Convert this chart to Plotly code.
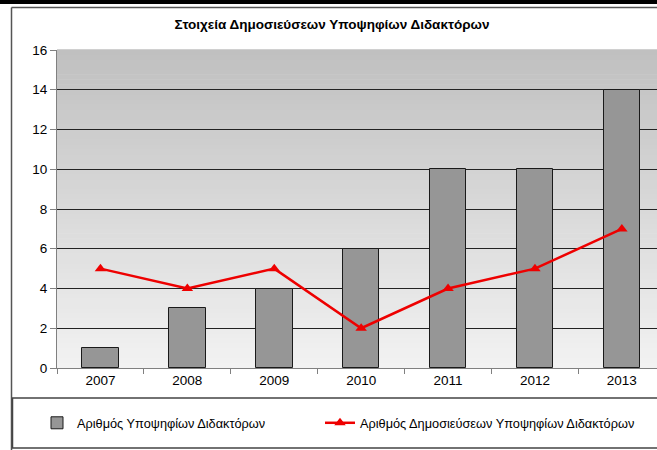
import plotly.graph_objects as go

# Δεδομένα
years = ['2007', '2008', '2009', '2010', '2011', '2012', '2013']
candidates = [1, 3, 4, 6, 10, 10, 14]
publications = [5, 4, 5, 2, 4, 5, 7]

W, H = 657, 450
L, T, B = 57, 50, 82
PW, PH = W - L, H - T - B


def px_x(x):
    return (x - L) / PW


def px_y(y):
    return (H - B - y) / PH


fig = go.Figure()

fig.add_trace(go.Bar(
    x=years,
    y=candidates,
    name='Αριθμός Υποψηφίων Διδακτόρων',
    width=0.42,
    marker=dict(color='#969696', line=dict(color='#1a1a1a', width=1)),
    legend='legend',
))

fig.add_trace(go.Scatter(
    x=years,
    y=publications,
    mode='lines+markers',
    name='Αριθμός Δημοσιεύσεων Υποψηφίων Διδακτόρων',
    line=dict(color='#ee0000', width=2.5),
    marker=dict(symbol='triangle-up', size=10, color='#ee0000'),
    legend='legend2',
))

# gradient background of the plot area
shapes = []
n = 64
for i in range(n):
    t = i / (n - 1)
    c = int(round(242 - (242 - 192) * t))
    shapes.append(dict(
        type='rect', xref='paper', yref='paper', layer='below',
        x0=0, x1=1, y0=i / n, y1=(i + 1) / n + 0.002,
        fillcolor=f'rgb({c},{c},{c})', line=dict(width=0),
    ))

# frame bits
shapes.append(dict(type='rect', xref='paper', yref='paper',
                   x0=px_x(0), x1=px_x(W), y0=px_y(4), y1=px_y(0),
                   fillcolor='black', line=dict(width=0)))
shapes.append(dict(type='line', xref='paper', yref='paper',
                   x0=px_x(11.5), x1=px_x(W + 5), y0=px_y(7.5), y1=px_y(7.5),
                   line=dict(color='#555555', width=1.5)))
shapes.append(dict(type='line', xref='paper', yref='paper',
                   x0=px_x(11.5), x1=px_x(11.5), y0=px_y(7.5), y1=px_y(H + 5),
                   line=dict(color='#555555', width=1.5)))
# legend box
shapes.append(dict(type='rect', xref='paper', yref='paper',
                   x0=px_x(12.5), x1=px_x(W + 10), y0=px_y(448), y1=px_y(398),
                   line=dict(color='#444444', width=1.5), fillcolor='rgba(0,0,0,0)'))

legend_style = dict(
    orientation='h',
    xref='container', yref='container',
    xanchor='left',
    y=1 - 423 / H, yanchor='middle',
    font=dict(size=12.75),
    bgcolor='rgba(0,0,0,0)',
)

fig.update_layout(
    width=W,
    height=H,
    autosize=False,
    margin=dict(l=L, r=0, t=T, b=B, pad=0),
    paper_bgcolor='white',
    plot_bgcolor='rgba(0,0,0,0)',
    font=dict(family='Liberation Sans, Arial', size=12, color='black'),
    title=dict(
        text='<b>Στοιχεία Δημοσιεύσεων Υποψηφίων Διδακτόρων</b>',
        font=dict(size=13.5, color='black'),
        x=332 / W, xanchor='center', xref='container',
        y=1 - 24 / H, yanchor='middle', yref='container',
    ),
    shapes=shapes,
    showlegend=True,
    legend=dict(legend_style, x=37 / W),
    legend2=dict(legend_style, x=320 / W),
    bargap=0,
)

fig.update_xaxes(
    type='category',
    range=[-0.5, -0.5 + PW / 86.9],
    showline=True, linecolor='#808080', linewidth=1,
    ticks='outside', tickson='boundaries', ticklen=5, tickcolor='#808080',
    showgrid=False,
    tickfont=dict(size=13.5),
)

fig.update_yaxes(
    range=[0, 16],
    dtick=2,
    showline=True, linecolor='#808080', linewidth=1,
    ticks='outside', ticklen=6, tickcolor='#808080',
    showgrid=True, gridcolor='#222222', gridwidth=1,
    zeroline=False,
    tickfont=dict(size=13.5),
)

fig.write_html(
    "out.html",
    config={'displayModeBar': False},
    post_script="document.body.style.margin='0';document.body.style.overflow='hidden';",
)
